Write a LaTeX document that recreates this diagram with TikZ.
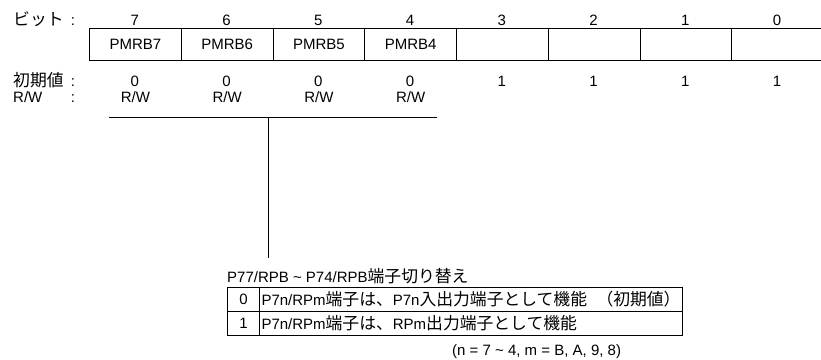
\documentclass[tikz,border=0pt]{standalone}
\usepackage{fontspec}
\setmainfont{Liberation Sans}
\newfontfamily\jpfont[Scale=1.12]{Noto Sans CJK JP}
\newcommand{\jp}[1]{{\jpfont #1}}
\usetikzlibrary{positioning}

\tikzset{
  regcell/.style={draw, line width=1pt, minimum width=91.75pt,
    minimum height=32pt, anchor=north west},
  tabcell/.style={draw, line width=1pt, minimum height=24pt,
    anchor=north west},
  lab/.style={anchor=base},
}

\begin{document}
\begin{tikzpicture}[x=1pt, y=-1pt, font=\fontsize{15}{18}\selectfont,
  line cap=butt, every node/.style={inner sep=0pt}]
  \path[use as bounding box] (0,0) rectangle (821,359);
  % row headings, colons aligned at x = 73
  \foreach \y/\name/\txt in {25/bit/{\jp{ビット}},86/init/{\jp{初期値}},102/rw/{R/W}} {
    \node[anchor=base west] (head-\name) at (13,\y) {\txt};
    \node[lab] (colon-\name) at (73,\y) {:};
  }
  % register: x = 89 + 91.75 i
  \foreach \i/\b/\fld/\val in {0/7/PMRB7/0,1/6/PMRB6/0,2/5/PMRB5/0,3/4/PMRB4/0,
      4/3//1,5/2//1,6/1//1,7/0//1} {
    \node[regcell] (cell\b) at ({89+91.75*\i},28) {\fld};
    \node[lab] (bit\b) at ({89+91.75*(\i+0.5)},25) {\b};
    \node[lab] (init\b) at ({89+91.75*(\i+0.5)},86) {\val};
  }
  \foreach \b in {7,6,5,4}
    \node[lab] (rw\b) at (cell\b.center |- 0,102) {R/W};
  % bracket down to the setting table
  \coordinate (brace-l) at (109,117);
  \coordinate (brace-r) at (437,117);
  \coordinate (brace-m) at (268,117);
  \coordinate (brace-end) at (268,258);
  \draw[line width=1pt] (brace-l) -- (brace-r);
  \draw[line width=1pt] (brace-m) -- (brace-end);
  \node[anchor=base west] (title) at (227,282)
    {P77/RPB \textasciitilde{} P74/RPB\jp{端子切り替え}};
  % setting table
  \node[tabcell, minimum width=32pt] (val0) at (227,287) {0};
  \node[tabcell, minimum width=423pt, text width=419pt, align=left,
    inner xsep=2pt] (desc0) at (259,287)
    {P7n/RPm\jp{端子は、}P7n\jp{入出力端子として機能}\hfill\jp{（初期値）}};
  \node[tabcell, minimum width=32pt] (val1) at (227,311) {1};
  \node[tabcell, minimum width=423pt, text width=419pt, align=left,
    inner xsep=2pt] (desc1) at (259,311)
    {P7n/RPm\jp{端子は、}RPm\jp{出力端子として機能}};
  \node[anchor=base west] (note) at (452,355)
    {(n = 7 \textasciitilde{} 4, m = B, A, 9, 8)};
\end{tikzpicture}
\end{document}
